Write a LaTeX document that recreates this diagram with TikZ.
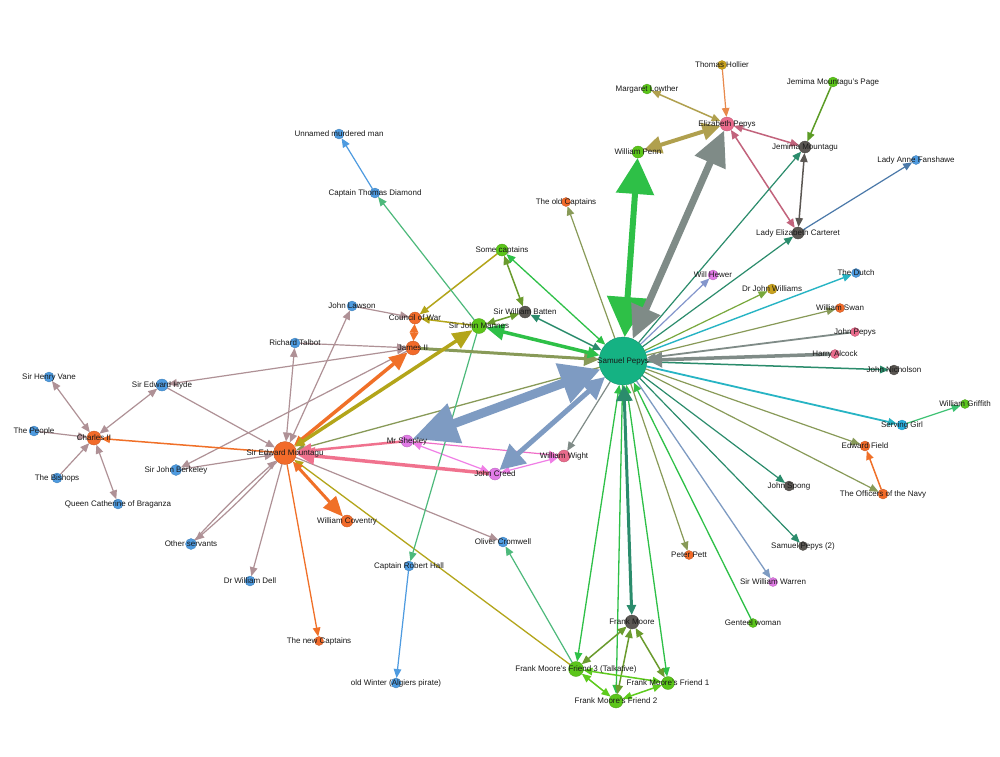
\documentclass[tikz,border=0pt]{standalone}
\usepackage{fontspec}
\setmainfont{Liberation Sans}
\usetikzlibrary{arrows.meta}
\pgfdeclarelayer{bg}
\pgfdeclarelayer{edges}
\pgfsetlayers{bg,edges,main}
% node colours
\definecolor{cPep}{HTML}{15B283}
\definecolor{cOr}{HTML}{F26B2A}
\definecolor{cBl}{HTML}{4E9BE0}
\definecolor{cLi}{HTML}{5BC51A}
\definecolor{cDk}{HTML}{5B5753}
\definecolor{cPk}{HTML}{E96B8C}
\definecolor{cVi}{HTML}{E17BE6}
\definecolor{cGd}{HTML}{C9A21E}
\definecolor{cCy}{HTML}{27B0E0}
% edge colours
\definecolor{eMauve}{HTML}{AF9196}
\definecolor{eOrange}{HTML}{F07028}
\definecolor{eOlY}{HTML}{B3A51A}
\definecolor{eOlG}{HTML}{889A58}
\definecolor{eGreen}{HTML}{2EC047}
\definecolor{eTeal}{HTML}{2B8C6C}
\definecolor{eGrey}{HTML}{7F8B87}
\definecolor{eBG}{HTML}{7E9BC2}
\definecolor{eLav}{HTML}{8496CC}
\definecolor{eGold}{HTML}{B0A04E}
\definecolor{eHol}{HTML}{E8894C}
\definecolor{eRose}{HTML}{C2637C}
\definecolor{ePage}{HTML}{5C9C26}
\definecolor{eDkG}{HTML}{5B5753}
\definecolor{eSteel}{HTML}{4B79A9}
\definecolor{eCyan}{HTML}{27B4C4}
\definecolor{eDrW}{HTML}{78A83C}
\definecolor{eSG}{HTML}{3CC272}
\definecolor{eTG}{HTML}{4DB97B}
\definecolor{eBlue}{HTML}{4E9BE0}
\definecolor{eFM}{HTML}{6A9B2D}
\definecolor{eLime}{HTML}{5ECB1E}
\definecolor{ePink}{HTML}{F0728E}
\definecolor{eViol}{HTML}{F07EE6}
\definecolor{eMag}{HTML}{F06EC8}
\newcommand\NN[6]{%
  \node[circle,inner sep=0pt,outer sep=0pt,minimum size=#4pt,fill=#5,draw=#5!80!black,line width=0.3pt] (#1) at (#2,#3) {};
  \node[lab] (#1-l) at (#1) {#6};}
\begin{document}
\begin{tikzpicture}[x=1pt,y=-1pt,
  lab/.style={font=\fontsize{8}{9}\selectfont,text=black!90,inner sep=0pt},
  ed/.style={line width=1.2pt},
  aT/.style={-{Triangle[length=9pt,width=7.5pt]}},
  bT/.style={{Triangle[length=9pt,width=7.5pt]}-{Triangle[length=9pt,width=7.5pt]}},
  ar/.style 2 args={-{Triangle[length=#1,width=#2]}},
  br/.style n args={4}{{Triangle[length=#1,width=#2]}-{Triangle[length=#3,width=#4]}}]
\begin{pgfonlayer}{bg}
\fill[white] (0,0) rectangle (1000,756);
\end{pgfonlayer}
\useasboundingbox (0,0) rectangle (1000,756);
% nodes
\NN{pepys}{623}{361}{48}{cPep}{Samuel Pepys}
\NN{mount}{285}{453}{23}{cOr}{Sir Edward Mountagu}
\NN{charles}{94}{438}{14}{cOr}{Charles II}
\NN{vane}{49}{377}{10}{cBl}{Sir Henry Vane}
\NN{people}{34}{431}{10}{cBl}{The People}
\NN{bishops}{57}{478}{10}{cBl}{The Bishops}
\NN{cathe}{118}{504}{10}{cBl}{Queen Catherine of Braganza}
\NN{hyde}{162}{385}{12}{cBl}{Sir Edward Hyde}
\NN{berk}{176}{470}{11}{cBl}{Sir John Berkeley}
\NN{other}{191}{544}{11}{cBl}{Other servants}
\NN{dell}{250}{581}{10}{cBl}{Dr William Dell}
\NN{talbot}{295}{343}{10}{cBl}{Richard Talbot}
\NN{lawson}{352}{306}{10}{cBl}{John Lawson}
\NN{council}{415}{318}{12}{cOr}{Council of War}
\NN{james}{413}{348}{14}{cOr}{James II}
\NN{mannes}{479}{326}{15}{cLi}{Sir John Mannes}
\NN{batten}{525}{312}{12}{cDk}{Sir William Batten}
\NN{somecap}{502}{250}{12}{cLi}{Some captains}
\NN{oldcap}{566}{202}{9}{cOr}{The old Captains}
\NN{diamond}{375}{193}{10}{cBl}{Captain Thomas Diamond}
\NN{unnamed}{339}{134}{10}{cBl}{Unnamed murdered man}
\NN{hollier}{722}{65}{9}{cGd}{Thomas Hollier}
\NN{lowther}{647}{89}{10}{cLi}{Margaret Lowther}
\NN{eliz}{727}{124}{14}{cPk}{Elizabeth Pepys}
\NN{penn}{638}{152}{12}{cLi}{William Penn}
\NN{page}{833}{82}{10}{cLi}{Jemima Mountagu's Page}
\NN{jemima}{805}{147}{12}{cDk}{Jemima Mountagu}
\NN{fanshawe}{916}{160}{9}{cBl}{Lady Anne Fanshawe}
\NN{carteret}{798}{233}{12}{cDk}{Lady Elizabeth Carteret}
\NN{hewer}{713}{275}{10}{cVi}{Will Hewer}
\NN{drwill}{772}{289}{10}{cGd}{Dr John Williams}
\NN{dutch}{856}{273}{9}{cBl}{The Dutch}
\NN{swan}{840}{308}{9}{cOr}{William Swan}
\NN{jpepys}{855}{332}{9}{cPk}{John Pepys}
\NN{alcock}{835}{354}{9}{cPk}{Harry Alcock}
\NN{nichol}{894}{370}{10}{cDk}{John Nicholson}
\NN{griffith}{965}{404}{9}{cLi}{William Griffith}
\NN{serving}{902}{425}{10}{cCy}{Serving Girl}
\NN{field}{865}{446}{10}{cOr}{Edward Field}
\NN{officers}{883}{494}{10}{cOr}{The Officers of the Navy}
\NN{spong}{789}{486}{10}{cDk}{John Spong}
\NN{pepystwo}{803}{546}{9}{cDk}{Samuel Pepys (2)}
\NN{warren}{773}{582}{9}{cVi}{Sir William Warren}
\NN{genteel}{753}{623}{9}{cLi}{Genteel woman}
\NN{pett}{689}{555}{9}{cOr}{Peter Pett}
\NN{fmoore}{632}{622}{14}{cDk}{Frank Moore}
\NN{fthree}{576}{669}{15}{cLi}{Frank Moore's Friend 3 (Talkative)}
\NN{fone}{668}{683}{13}{cLi}{Frank Moore's Friend 1}
\NN{ftwo}{616}{701}{14}{cLi}{Frank Moore's Friend 2}
\NN{cromwell}{503}{542}{10}{cBl}{Oliver Cromwell}
\NN{hall}{409}{566}{10}{cBl}{Captain Robert Hall}
\NN{winter}{396}{683}{10}{cBl}{old Winter (Algiers pirate)}
\NN{newcap}{319}{641}{9}{cOr}{The new Captains}
\NN{coventry}{347}{521}{12}{cOr}{William Coventry}
\NN{shepley}{407}{441}{12}{cVi}{Mr Shepley}
\NN{creed}{495}{474}{12}{cVi}{John Creed}
\NN{wight}{564}{456}{12}{cPk}{William Wight}
% edges
\begin{pgfonlayer}{edges}
% left cluster
\draw[ed,eMauve,bT] (charles) -- (vane);
\draw[ed,eMauve,aT] (people) -- (charles);
\draw[ed,eMauve,aT] (bishops) -- (charles);
\draw[ed,eMauve,bT] (charles) -- (cathe);
\draw[ed,eMauve,bT] (charles) -- (hyde);
\draw[ed,eMauve,aT] (hyde) -- (mount);
\draw[ed,eMauve,bT] (hyde) -- (james);
\draw[ed,eMauve,aT] (james) -- (berk);
\draw[ed,eMauve,aT] (berk) -- (mount);
\draw[ed,eMauve,aT] (mount) to[bend left=3] (other);
\draw[ed,eMauve,aT] (other) to[bend left=3] (mount);
\draw[ed,eMauve,aT] (mount) -- (dell);
\draw[ed,eMauve,bT] (mount) -- (talbot);
\draw[ed,eMauve,bT] (mount) -- (lawson);
\draw[ed,eMauve,aT] (talbot) -- (james);
\draw[ed,eMauve,aT] (lawson) -- (council);
\draw[ed,eMauve,aT] (mount) -- (cromwell);
\draw[line width=1.5pt,eOrange,aT] (mount) -- (charles);
\draw[line width=1.3pt,eOrange,aT] (mount) -- (newcap);
\draw[line width=1.5pt,eOrange,br={8.5pt}{8.5pt}{8.5pt}{8.5pt}] (council) -- (james);
\draw[line width=1.5pt,eOrange,aT] (officers) -- (field);
\draw[line width=1.5pt,eOlY,aT] (mannes) -- (council);
\draw[line width=1.5pt,eOlY,aT] (somecap) -- (council);
\draw[line width=1.3pt,eOlY,aT] (fthree) -- (mount);
% Shepley / Creed / Wight
\draw[ed,eViol,bT] (shepley) -- (creed);
\draw[ed,eMag,aT] (shepley) -- (wight);
\draw[ed,eViol,bT] (creed) -- (wight);
% Pepys spokes (thin)
\draw[ed,eGrey,aT] (pepys) -- (wight);
\draw[line width=1.3pt,eOlG,aT] (pepys) -- (mount);
\draw[line width=1.5pt,eTeal,bT] (pepys) -- (batten);
\draw[line width=1.5pt,eFM,bT] (mannes) -- (batten);
\draw[line width=1.5pt,eFM,bT] (somecap) -- (batten);
\draw[line width=1.3pt,eGreen,bT] (pepys) -- (somecap);
\draw[ed,eTG,aT] (mannes) -- (diamond);
\draw[ed,eTG,aT] (mannes) -- (hall);
\draw[ed,eBlue,aT] (diamond) -- (unnamed);
\draw[ed,eBlue,aT] (hall) -- (winter);
\draw[ed,eOlG,aT] (pepys) -- (oldcap);
\draw[line width=1.5pt,eGold,bT] (eliz) -- (lowther);
\draw[ed,eHol,aT] (hollier) -- (eliz);
\draw[line width=1.5pt,eRose,bT] (eliz) -- (jemima);
\draw[line width=1.5pt,eRose,bT] (eliz) -- (carteret);
\draw[line width=1.5pt,ePage,aT] (page) -- (jemima);
\draw[line width=1.5pt,eDkG,bT] (jemima) -- (carteret);
\draw[ed,eTeal,aT] (pepys) -- (jemima);
\draw[ed,eTeal,aT] (pepys) -- (carteret);
\draw[ed,eSteel,aT] (carteret) -- (fanshawe);
\draw[ed,eLav,aT] (pepys) -- (hewer);
\draw[ed,eDrW,aT] (pepys) -- (drwill);
\draw[line width=1.4pt,eCyan,aT] (pepys) -- (dutch);
\draw[ed,eOlG,aT] (pepys) -- (swan);
\draw[line width=1.8pt,eGrey,aT] (jpepys) -- (pepys);
\draw[line width=1.5pt,eTeal,aT] (pepys) -- (nichol);
\draw[line width=1.8pt,eCyan,aT] (pepys) -- (serving);
\draw[ed,eSG,aT] (serving) -- (griffith);
\draw[ed,eOlG,aT] (pepys) -- (field);
\draw[ed,eOlG,aT] (pepys) -- (officers);
\draw[ed,eTeal,aT] (pepys) -- (spong);
\draw[ed,eTeal,aT] (pepys) -- (pepystwo);
\draw[line width=1.3pt,eBG,aT] (pepys) -- (warren);
\draw[line width=1.3pt,eGreen,aT] (genteel) -- (pepys);
\draw[ed,eOlG,aT] (pepys) -- (pett);
\draw[line width=1.3pt,eGreen,bT] (pepys) -- (fthree);
\draw[line width=1.3pt,eGreen,aT] (pepys) -- (ftwo);
\draw[line width=1.3pt,eGreen,bT] (pepys) -- (fone);
\draw[line width=1.5pt,eFM,bT] (fmoore) -- (fthree);
\draw[line width=1.5pt,eFM,bT] (fmoore) -- (ftwo);
\draw[line width=1.5pt,eFM,bT] (fmoore) -- (fone);
\draw[line width=1.5pt,eLime,bT] (fthree) -- (ftwo);
\draw[line width=1.5pt,eLime,bT] (fthree) -- (fone);
\draw[line width=1.5pt,eLime,bT] (ftwo) -- (fone);
\draw[ed,eTG,aT] (fthree) -- (cromwell);
% thicker edges
\draw[line width=3pt,eTeal,br={16pt}{16pt}{10pt}{9pt}] (pepys) -- (fmoore);
\draw[line width=3.5pt,eGrey,ar={15pt}{15pt}] (alcock) -- (pepys);
\draw[line width=3pt,eOlG,ar={15pt}{14pt}] (james) -- (pepys);
\draw[line width=3.5pt,eGreen,br={12pt}{11pt}{18pt}{16pt}] (pepys) -- (mannes);
\draw[line width=2.5pt,ePink,ar={15pt}{14pt}] (shepley) -- (mount);
\draw[line width=3.5pt,ePink,ar={18pt}{17pt}] (creed) -- (mount);
\draw[line width=3.5pt,eOrange,br={10pt}{9pt}{18pt}{16pt}] (mount) -- (james);
\draw[line width=3pt,eOrange,br={10pt}{9pt}{20pt}{17pt}] (mount) -- (coventry);
\draw[line width=3.5pt,eOlY,br={10pt}{9pt}{20pt}{17pt}] (mount) -- (mannes);
\draw[line width=4pt,eGold,br={18pt}{17pt}{18pt}{17pt}] (eliz) -- (penn);
\draw[line width=5pt,eBG,br={22pt}{22pt}{25pt}{25pt}] (pepys) -- (creed);
\draw[line width=9pt,eBG,br={40pt}{40pt}{45pt}{40pt}] (pepys) -- (shepley);
\draw[line width=6pt,eGreen,br={40pt}{40pt}{36pt}{37pt}] (pepys) -- (penn);
\draw[line width=7pt,eGrey,br={33pt}{30pt}{35pt}{32pt}] (pepys) -- (eliz);
\end{pgfonlayer}
\end{tikzpicture}
\end{document}
